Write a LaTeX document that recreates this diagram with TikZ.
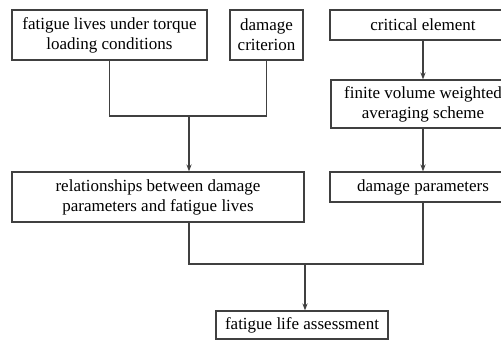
\documentclass[tikz,border=0pt]{standalone}
\usepackage{fontspec}
\setmainfont{Liberation Serif}
\usetikzlibrary{arrows.meta}

\tikzset{
  stage/.style={draw=black!75, line width=0.6pt, align=center, inner sep=0pt,
    font=\fontsize{8.5}{10}\selectfont},
  link/.style={draw=black!75, line width=0.6pt},
  >={Stealth[length=3.5pt,width=2.6pt]}
}

\begin{document}
\begin{tikzpicture}[x=0.5pt, y=-0.5pt]
    \useasboundingbox (0,0) rectangle (501,341);

    % inputs on the left
    \node[stage, minimum width=97.5pt, minimum height=25pt] (torque) at (109.5,35) {fatigue lives under torque\\loading conditions};
    \node[stage, minimum width=36.5pt, minimum height=25pt] (crit) at (266.5,35) {damage\\criterion};

    % chain on the right
    \node[stage, minimum width=93pt, minimum height=15pt] (elem) at (423,25) {critical element};
    \node[stage, minimum width=92pt, minimum height=24pt] (fvw) at (423,104) {finite volume weighted\\averaging scheme};
    \node[stage, minimum width=93pt, minimum height=15pt] (dpar) at (423,187) {damage parameters};

    \node[stage, minimum width=146pt, minimum height=25pt] (rel) at (158,197) {relationships between damage\\parameters and fatigue lives};
    \node[stage, minimum width=86pt, minimum height=14pt] (life) at (302,325) {fatigue life assessment};

    \coordinate (j1) at (189,116);
    \coordinate (j2) at (305,264);

    \draw[link] (torque.south) |- (j1) -| (crit.south);
    \draw[link, ->] (j1) -- (j1 |- rel.north);

    \draw[link, ->] (elem.south) -- (fvw.north);
    \draw[link, ->] (fvw.south) -- (dpar.north);

    \draw[link] (j1 |- rel.south) |- (j2) -| (dpar.south);
    \draw[link, ->] (j2) -- (j2 |- life.north);

\end{tikzpicture}
\end{document}
